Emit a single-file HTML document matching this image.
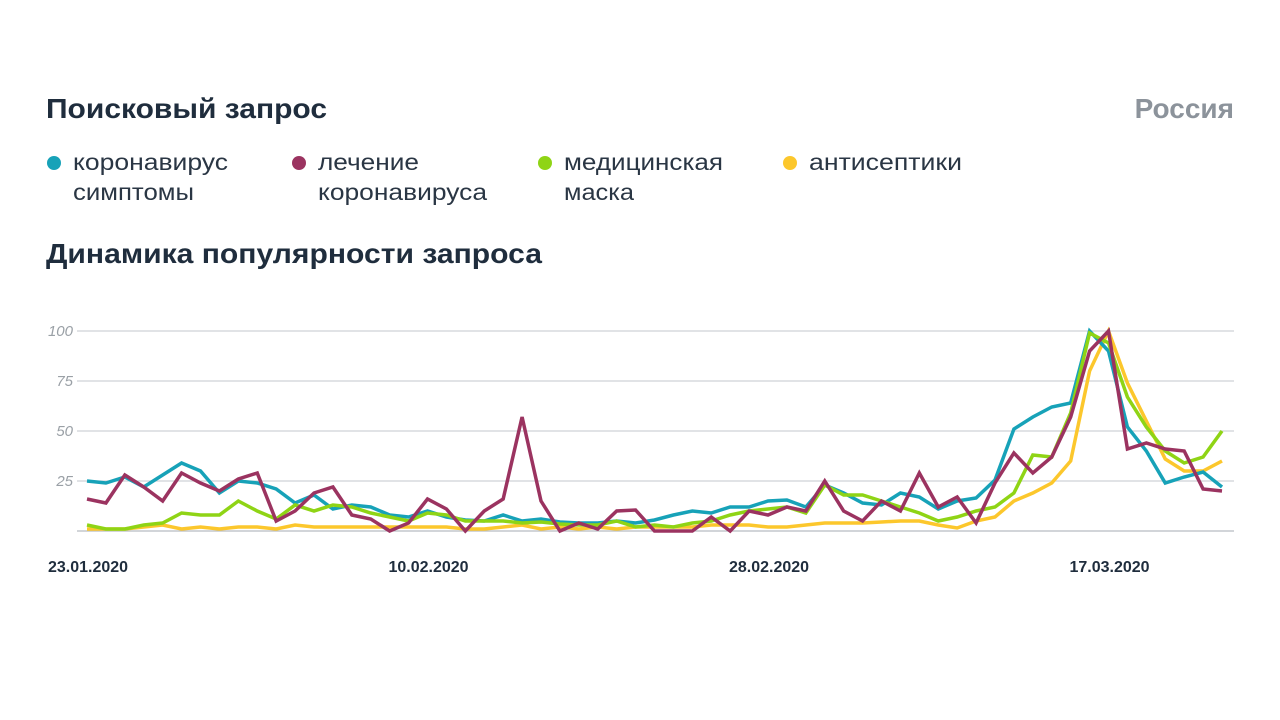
<!DOCTYPE html>
<html><head><meta charset="utf-8"><style>
body{margin:0;width:1280px;height:720px;background:#fff;overflow:hidden;font-family:"Liberation Sans",sans-serif}
</style></head><body>
<svg width="1280" height="720" style="position:absolute;left:0;top:0">
<text x="46" y="118" font-size="28" font-weight="bold" fill="#1f2d3d" textLength="281" lengthAdjust="spacingAndGlyphs">Поисковый запрос</text>
<text x="1234" y="118" text-anchor="end" font-size="28" font-weight="bold" fill="#8c939b">Россия</text>
<g font-size="23" fill="#2a3644">
<g><circle cx="54" cy="163" r="7" fill="#17a2b8"/><text x="73" y="170" textLength="155" lengthAdjust="spacingAndGlyphs">коронавирус</text><text x="73" y="200" textLength="121" lengthAdjust="spacingAndGlyphs">симптомы</text></g>
<g><circle cx="299" cy="163" r="7" fill="#9b3360"/><text x="318" y="170" textLength="101" lengthAdjust="spacingAndGlyphs">лечение</text><text x="318" y="200" textLength="169" lengthAdjust="spacingAndGlyphs">коронавируса</text></g>
<g><circle cx="545" cy="163" r="7" fill="#8fd415"/><text x="564" y="170" textLength="159" lengthAdjust="spacingAndGlyphs">медицинская</text><text x="564" y="200" textLength="70" lengthAdjust="spacingAndGlyphs">маска</text></g>
<g><circle cx="790" cy="163" r="7" fill="#fcc72c"/><text x="809" y="170" textLength="153" lengthAdjust="spacingAndGlyphs">антисептики</text></g>
</g>
<text x="46" y="263" font-size="28" font-weight="bold" fill="#1f2d3d" textLength="496" lengthAdjust="spacingAndGlyphs">Динамика популярности запроса</text>
<g id="grid"></g><g id="plot"></g><g id="xl"></g>
</svg>
<script>
const yTicks=[0,25,50,75,100];
const xLabels=["23.01.2020","10.02.2020","28.02.2020","17.03.2020"];
const xLabelIdx=[0,18,36,54];
const symptoms=[25,24,27,22,28,34,30,19,25,24,21,14,18,11,13,12,8,7,10,7,5.5,5,8,5,6,4.5,4,4,5,4,5.5,8,10,9,12,12,15,15.5,12,23,19,14,13,19,17,11,15,16.5,25.5,51,57,62,64,100,90,52,40,24,27,29.5,22];
const treatment=[16,14,28,22,15,29,24,20,26,29,5,10,19,22,8,6,0,4,16,11,0,10,16,57,15,0,4,1,10,10.5,0,0,0,7,0,10,8,12,10,25,10,5,15,10,29,12,17,4,24,39,29,37,57,90,100,41,44,41,40,21,20];
const mask=[3,1,1,3,4,9,8,8,15,10,6,13,10,13,12,9,7,5,9,8,5,5,5,4,4.5,3.5,3,3,5,2,3,2,4,5,8,10,11,12,9,23,18,18,15,12,9,5,7,10,12,19,38,37,59,99,94,67,52,40,34,37,50];
const antiseptics=[1,1,1,2,3,1,2,1,2,2,1,3,2,2,2,2,2,2,2,2,1,1,2,3,1,2,1,2,1,2,2,2,2,3,3,3,2,2,3,4,4,4,4.5,5,5,3,1.5,5,7,15,19,24,35,80,100,74,55,36,30,30,35];
const X0=87,X1=1222,Y0=531,Y100=331,N=symptoms.length;
const xs=i=>X0+(X1-X0)*i/(N-1), ys=v=>Y0-(Y0-Y100)*v/100;
const NS="http://www.w3.org/2000/svg";
const grid=document.getElementById('grid'),plot=document.getElementById('plot'),xl=document.getElementById('xl');
yTicks.forEach(t=>{
 const l=document.createElementNS(NS,'line');
 l.setAttribute('x1',77);l.setAttribute('x2',1234);l.setAttribute('y1',ys(t));l.setAttribute('y2',ys(t));
 l.setAttribute('stroke',t===0?'#b8bcc2':'#cfd2d6');l.setAttribute('stroke-width',1.2);
 
 
 grid.appendChild(l);
 if(t>0){const tx=document.createElementNS(NS,'text');
 tx.setAttribute('x',73);tx.setAttribute('y',ys(t)+5);tx.setAttribute('text-anchor','end');
 tx.setAttribute('font-size',15);tx.setAttribute('font-style','italic');tx.setAttribute('fill','#9aa0a6');
 tx.textContent=t;
 
 
 grid.appendChild(tx);}
});
xLabels.forEach((s,k)=>{
 const tx=document.createElementNS(NS,'text');
 tx.setAttribute('x',xs(xLabelIdx[k])+1);tx.setAttribute('y',572);tx.setAttribute('text-anchor','middle');
 tx.setAttribute('font-size',16);tx.setAttribute('font-weight','bold');tx.setAttribute('fill','#1f2d3d');
 tx.textContent=s;
 
 
 xl.appendChild(tx);
});
[[antiseptics,'#fcc72c','line-antiseptics'],[symptoms,'#17a2b8','line-symptoms'],[mask,'#8fd415','line-mask'],[treatment,'#9b3360','line-treatment']].forEach(([d,c,n])=>{
 const p=document.createElementNS(NS,'polyline');
 p.setAttribute('points',d.map((v,i)=>xs(i)+','+ys(v)).join(' '));
 p.setAttribute('fill','none');p.setAttribute('stroke',c);p.setAttribute('stroke-width',3.5);p.setAttribute('stroke-linejoin','miter');
 
 
 plot.appendChild(p);
});
</script>
</body></html>
